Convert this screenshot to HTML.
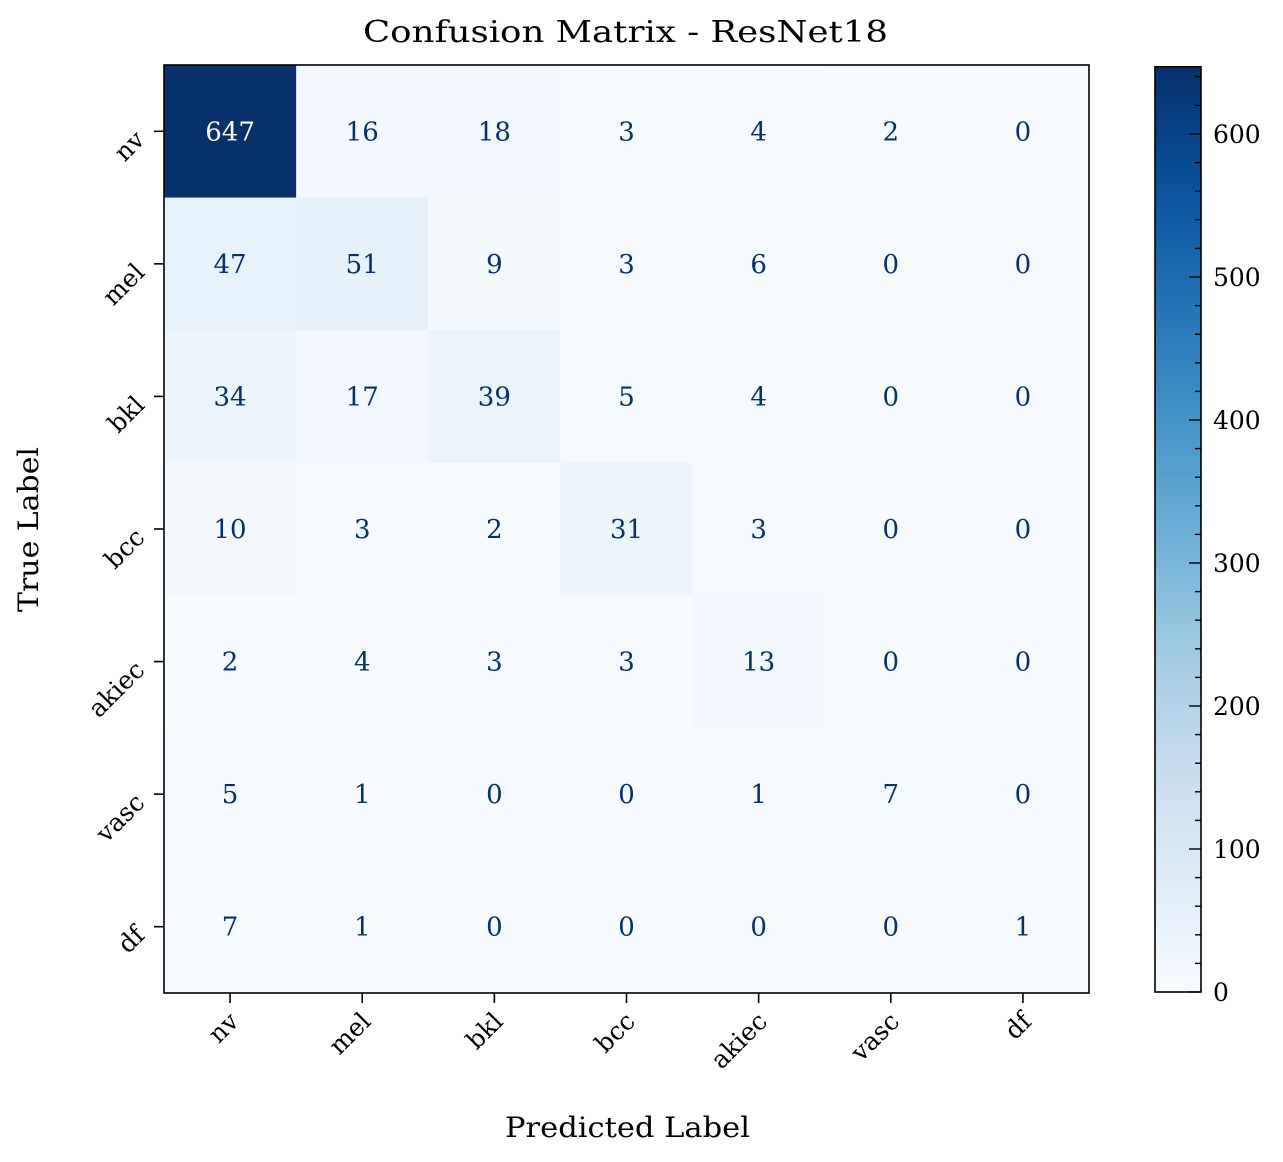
<!DOCTYPE html>
<html><head><meta charset="utf-8"><style>
body{margin:0;background:#fff}
text{font-family:"DejaVu Serif","Liberation Serif",serif}
</style></head><body>
<svg id="c" width="1283" height="1157" xmlns="http://www.w3.org/2000/svg"></svg>
<script>
const classes=["nv","mel","bkl","bcc","akiec","vasc","df"];
const row0=[647,16,18,3,4,2,0];
const row1=[47,51,9,3,6,0,0];
const row2=[34,17,39,5,4,0,0];
const row3=[10,3,2,31,3,0,0];
const row4=[2,4,3,3,13,0,0];
const row5=[5,1,0,0,1,7,0];
const row6=[7,1,0,0,0,0,1];
const matrix=[row0,row1,row2,row3,row4,row5,row6];
const cbTicks=[0,100,200,300,400,500,600];

const NS="http://www.w3.org/2000/svg";
const svg=document.getElementById('c');
function mk(t,a,p){const e=document.createElementNS(NS,t);for(const k in a)e.setAttribute(k,a[k]);(p||svg).appendChild(e);return e;}
const L=164,R=1089,T=65,B=993,n=classes.length;
const cw=(R-L)/n,ch=(B-T)/n;
let vmax=0;matrix.forEach(r=>r.forEach(v=>{if(v>vmax)vmax=v;}));
const stops=["#f7fbff","#deebf7","#c6dbef","#9ecae1","#6baed6","#4292c6","#2171b5","#08519c","#08306b"];
function hex(h){return [1,3,5].map(i=>parseInt(h.substr(i,2),16));}
function cmap(t){t=Math.max(0,Math.min(1,t));const s=t*8,i=Math.min(7,Math.floor(s)),f=s-i;const a=hex(stops[i]),b=hex(stops[i+1]);return `rgb(${a.map((v,k)=>Math.round(v+(b[k]-v)*f)).join(',')})`;}
const x=j=>L+j*cw, y=i=>T+i*ch;

const t=mk('text',{x:363,y:42,'font-size':30,textLength:525,lengthAdjust:'spacingAndGlyphs'});t.textContent="Confusion Matrix - ResNet18";


matrix.forEach((r,i)=>r.forEach((v,j)=>{
  const c=mk('rect',{x:x(j),y:y(i),width:cw+0.5,height:ch+0.5,fill:cmap(v/vmax)});
  
  
  const tx=mk('text',{x:x(j)+cw/2,y:y(i)+ch/2+9,'text-anchor':'middle','font-size':26,fill:v/vmax>0.5?'#fff':'#08306b'});
  tx.textContent=v;
  
  
}));
mk('rect',{x:L,y:T,width:R-L,height:B-T,fill:'none',stroke:'#000','stroke-width':1.6});

classes.forEach((c,k)=>{
  const cx=x(k)+cw/2, cy=y(k)+ch/2;
  mk('line',{x1:cx,y1:B,x2:cx,y2:B+10,stroke:'#000','stroke-width':1.6});
  mk('line',{x1:L,y1:cy,x2:L-10,y2:cy,stroke:'#000','stroke-width':1.6});
  const xt=mk('text',{x:cx+10,y:B+30,'text-anchor':'end','font-size':25,transform:`rotate(-45 ${cx+10} ${B+30})`});
  xt.textContent=c;
  
  
  const yt=mk('text',{x:L-18,y:cy+10,'text-anchor':'end','font-size':25,transform:`rotate(-45 ${L-18} ${cy+10})`});
  yt.textContent=c;
  
  
});
const xl=mk('text',{x:505,y:1137,'font-size':28,textLength:245,lengthAdjust:'spacingAndGlyphs'});xl.textContent="Predicted Label";

const yl=mk('text',{x:447,y:38,'font-size':28,textLength:165,lengthAdjust:'spacingAndGlyphs',transform:'translate(0,1059) rotate(-90)'});yl.textContent="True Label";
yl.setAttribute('x',447);yl.setAttribute('y',38);


// colorbar
const CL=1155,CR=1201,CB=992,pxu=1.43;
const cy=v=>CB-v*pxu;
const g=mk('defs',{});const lg=mk('linearGradient',{id:'gr',x1:0,y1:1,x2:0,y2:0},g);
for(let k=0;k<=20;k++)mk('stop',{offset:k/20,'stop-color':cmap(k/20)},lg);
const cb=mk('rect',{x:CL,y:cy(vmax),width:CR-CL,height:CB-cy(vmax),fill:'url(#gr)',stroke:'#000','stroke-width':1.6});

for(let v=0;v<=vmax;v+=20){
  const major=v%100===0;
  mk('line',{x1:CR,y1:cy(v),x2:CR-(major?12:6),y2:cy(v),stroke:'#000','stroke-width':1.4});
}
cbTicks.forEach(v=>{
  const tl=mk('text',{x:1213,y:cy(v)+9,'font-size':25});tl.textContent=v;
  
  
});
</script>
</body></html>
